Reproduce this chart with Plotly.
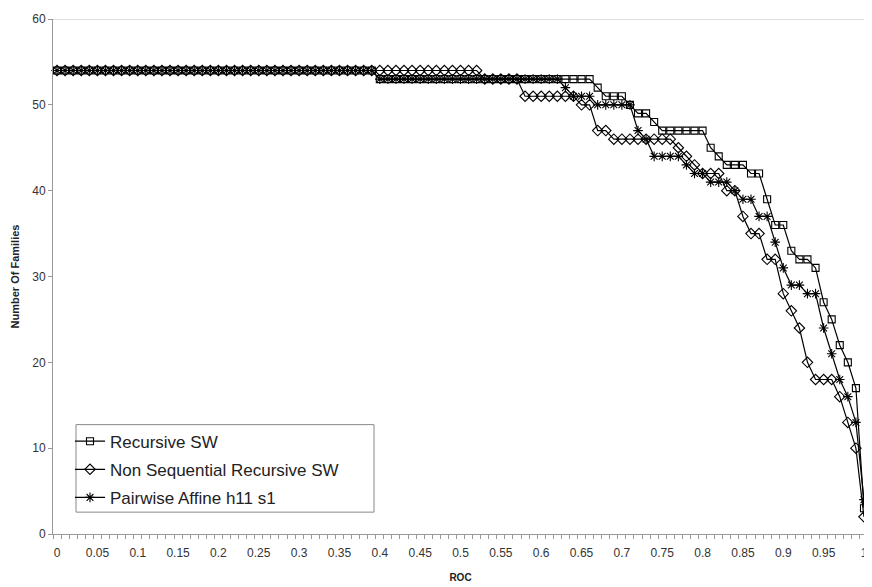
import plotly.graph_objects as go

roc = [0.00, 0.01, 0.02, 0.03, 0.04, 0.05, 0.06, 0.07, 0.08, 0.09,
       0.10, 0.11, 0.12, 0.13, 0.14, 0.15, 0.16, 0.17, 0.18, 0.19,
       0.20, 0.21, 0.22, 0.23, 0.24, 0.25, 0.26, 0.27, 0.28, 0.29,
       0.30, 0.31, 0.32, 0.33, 0.34, 0.35, 0.36, 0.37, 0.38, 0.39,
       0.40, 0.41, 0.42, 0.43, 0.44, 0.45, 0.46, 0.47, 0.48, 0.49,
       0.50, 0.51, 0.52, 0.53, 0.54, 0.55, 0.56, 0.57, 0.58, 0.59,
       0.60, 0.61, 0.62, 0.63, 0.64, 0.65, 0.66, 0.67, 0.68, 0.69,
       0.70, 0.71, 0.72, 0.73, 0.74, 0.75, 0.76, 0.77, 0.78, 0.79,
       0.80, 0.81, 0.82, 0.83, 0.84, 0.85, 0.86, 0.87, 0.88, 0.89,
       0.90, 0.91, 0.92, 0.93, 0.94, 0.95, 0.96, 0.97, 0.98, 0.99,
       1.00]

recursive_sw = [54, 54, 54, 54, 54, 54, 54, 54, 54, 54,
                54, 54, 54, 54, 54, 54, 54, 54, 54, 54,
                54, 54, 54, 54, 54, 54, 54, 54, 54, 54,
                54, 54, 54, 54, 54, 54, 54, 54, 54, 54,
                53, 53, 53, 53, 53, 53, 53, 53, 53, 53,
                53, 53, 53, 53, 53, 53, 53, 53, 53, 53,
                53, 53, 53, 53, 53, 53, 53, 52, 51, 51,
                51, 50, 49, 49, 48, 47, 47, 47, 47, 47,
                47, 45, 44, 43, 43, 43, 42, 42, 39, 36,
                36, 33, 32, 32, 31, 27, 25, 22, 20, 17,
                3]

non_seq_recursive_sw = [54, 54, 54, 54, 54, 54, 54, 54, 54, 54,
                        54, 54, 54, 54, 54, 54, 54, 54, 54, 54,
                        54, 54, 54, 54, 54, 54, 54, 54, 54, 54,
                        54, 54, 54, 54, 54, 54, 54, 54, 54, 54,
                        54, 54, 54, 54, 54, 54, 54, 54, 54, 54,
                        54, 54, 54, 53, 53, 53, 53, 53, 51, 51,
                        51, 51, 51, 51, 51, 50, 50, 47, 47, 46,
                        46, 46, 46, 46, 46, 46, 46, 45, 44, 43,
                        42, 42, 42, 40, 40, 37, 35, 35, 32, 32,
                        28, 26, 24, 20, 18, 18, 18, 16, 13, 10,
                        2]

pairwise_affine = [54, 54, 54, 54, 54, 54, 54, 54, 54, 54,
                   54, 54, 54, 54, 54, 54, 54, 54, 54, 54,
                   54, 54, 54, 54, 54, 54, 54, 54, 54, 54,
                   54, 54, 54, 54, 54, 54, 54, 54, 54, 54,
                   53, 53, 53, 53, 53, 53, 53, 53, 53, 53,
                   53, 53, 53, 53, 53, 53, 53, 53, 53, 53,
                   53, 53, 53, 52, 51, 51, 51, 50, 50, 50,
                   50, 50, 47, 46, 44, 44, 44, 44, 43, 42,
                   42, 41, 41, 41, 40, 39, 39, 37, 37, 34,
                   31, 29, 29, 28, 28, 24, 21, 18, 16, 13,
                   4]

series_names = ["Recursive SW", "Non Sequential Recursive SW", "Pairwise Affine h11 s1"]

x_tick_vals = [0, 0.05, 0.1, 0.15, 0.2, 0.25, 0.3, 0.35, 0.4, 0.45, 0.5,
               0.55, 0.6, 0.65, 0.7, 0.75, 0.8, 0.85, 0.9, 0.95, 1]
x_tick_text = ["0", "0.05", "0.1", "0.15", "0.2", "0.25", "0.3", "0.35", "0.4", "0.45", "0.5",
               "0.55", "0.6", "0.65", "0.7", "0.75", "0.8", "0.85", "0.9", "0.95", "1"]
y_tick_vals = [0, 10, 20, 30, 40, 50, 60]

font_family = "Liberation Sans, Arial, sans-serif"

# page body has an 8px margin: figure sits at (8, 8) in the window
W, H = 864, 579
L, T, B, R = 45, 8, 53, 4

fig = go.Figure()
styles = [
    dict(symbol="square-open", size=7),
    dict(symbol="diamond-open", size=8),
    dict(symbol="asterisk-open", size=8),
]
for i, (name, vals, st) in enumerate(zip(series_names,
                                          [recursive_sw, non_seq_recursive_sw, pairwise_affine],
                                          styles)):
    fig.add_trace(go.Scatter(
        x=roc, y=vals, name=name, mode="lines+markers", legendgroup="g%d" % i,
        line=dict(color="black", width=1.2),
        marker=dict(symbol=st["symbol"], size=st["size"], color="black",
                    line=dict(color="black", width=1.1)),
        cliponaxis=False,
    ))

pw = W - L - R
ph = H - T - B

def px_x(page_x):
    return (page_x - 8 - L) / pw

def px_y(page_y):
    return 1 - (page_y - 8 - T) / ph

fig.update_layout(
    width=W, height=H,
    margin=dict(l=L, r=R, t=T, b=B),
    paper_bgcolor="white", plot_bgcolor="white",
    font=dict(family=font_family, color="#333333", size=12),
    showlegend=True,
    legend=dict(
        x=px_x(70), y=px_y(423), xanchor="left", yanchor="top",
        bgcolor="rgba(0,0,0,0)", borderwidth=0,
        font=dict(family=font_family, size=17, color="#222222"),
        itemwidth=30, tracegroupgap=3,
    ),
    xaxis=dict(
        range=[-0.005, 1.005], showgrid=False, zeroline=False,
        showline=True, linecolor="#999999", linewidth=1,
        tickmode="array", tickvals=x_tick_vals, ticktext=x_tick_text,
        ticks="", tickfont=dict(size=12, color="#333333"),
        ticklabelstandoff=8, ticklabeloverflow="allow",
        minor=dict(tickmode="linear", tick0=-0.005, dtick=0.01, ticks="outside",
                   ticklen=4, tickcolor="#999999", showgrid=False),
        title=dict(text="<b>ROC</b>", font=dict(size=10, color="#222222"), standoff=14),
    ),
    yaxis=dict(
        range=[0, 60], showgrid=False, zeroline=False,
        showline=True, linecolor="#999999", linewidth=1,
        tickmode="array", tickvals=y_tick_vals,
        ticks="outside", ticklen=4, tickcolor="#999999",
        tickfont=dict(size=12, color="#333333"),
        title=dict(text="<b>Number Of Families</b>", font=dict(size=11, color="#222222"), standoff=10),
    ),
)
# legend frame (Excel-style box)
fig.add_shape(type="rect", xref="paper", yref="paper",
              x0=px_x(76), x1=px_x(374), y0=px_y(512), y1=px_y(424),
              line=dict(color="#888888", width=1), fillcolor="white", layer="below")
# top line at y=60
fig.add_shape(type="line", xref="paper", yref="y", x0=0, x1=1, y0=60, y1=60,
              line=dict(color="#bbbbbb", width=1), layer="below")

fig.write_html("out.html")
